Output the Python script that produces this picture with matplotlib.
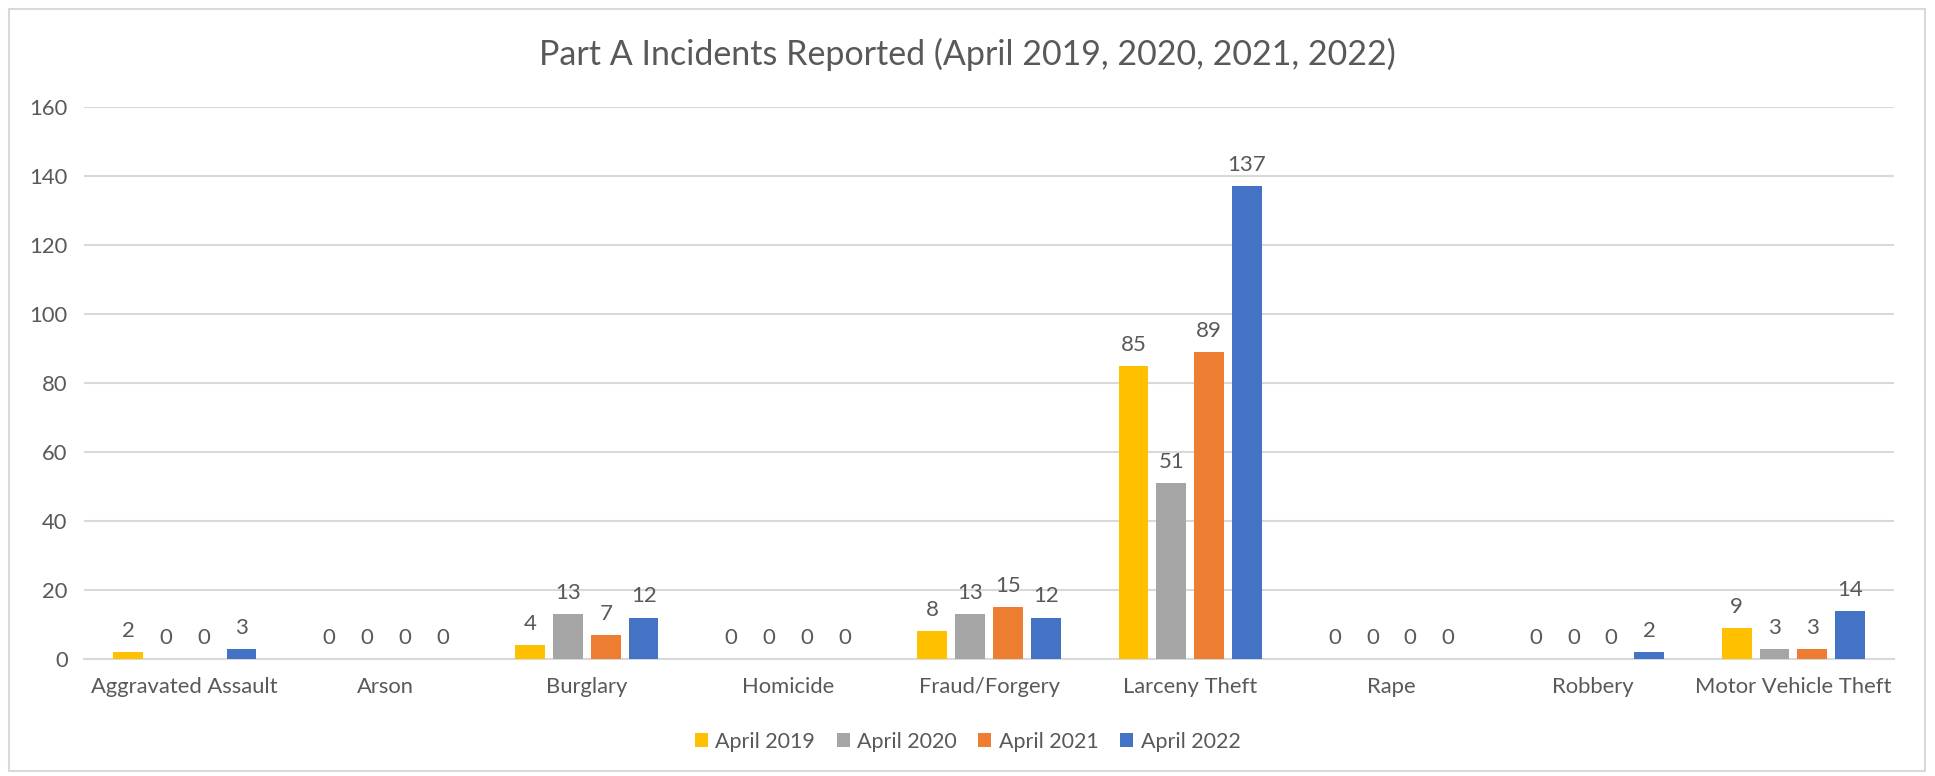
import matplotlib.pyplot as plt
import matplotlib.patches as mpatches
import numpy as np

plt.rcParams['font.family'] = ['Lato', 'DejaVu Sans']

# dados
categorias = ['Aggravated Assault', 'Arson', 'Burglary', 'Homicide', 'Fraud/Forgery',
              'Larceny Theft', 'Rape', 'Robbery', 'Motor Vehicle Theft']
series = ['April 2019', 'April 2020', 'April 2021', 'April 2022']
abr_2019 = [2, 0, 4, 0, 8, 85, 0, 0, 9]
abr_2020 = [0, 0, 13, 0, 13, 51, 0, 0, 3]
abr_2021 = [0, 0, 7, 0, 15, 89, 0, 0, 3]
abr_2022 = [3, 0, 12, 0, 12, 137, 0, 2, 14]
cores = ['#FFC000', '#A5A5A5', '#ED7D31', '#4472C4']

texto = '#595959'

fig = plt.figure(figsize=(19.35, 7.76), dpi=100)
ax = fig.add_axes([0.0435, 0.1508, 0.9353, 0.7113])

x = np.arange(len(categorias))
w = 0.148
passo = w * 1.27
valores = [abr_2019, abr_2020, abr_2021, abr_2022]
for i, (nome, vals, cor) in enumerate(zip(series, valores, cores)):
    pos = x + (i - 1.5) * passo
    barras = ax.bar(pos, vals, width=w, color=cor, label=nome, zorder=3)
    for b, v in zip(barras, vals):
        ax.annotate(str(v), (b.get_x() + b.get_width() / 2, v),
                    xytext=(0, 8), textcoords='offset points',
                    ha='center', va='bottom', fontsize=16, color=texto)

ax.set_xlim(-0.5, len(categorias) - 0.5)
ax.set_ylim(0, 160)
ax.set_yticks(range(0, 161, 20))
ax.set_xticks(x)
ax.set_xticklabels(categorias)
ax.tick_params(axis='both', length=0, labelsize=15.8, labelcolor=texto)
ax.tick_params(axis='y', pad=12)
ax.tick_params(axis='x', pad=13)
ax.grid(True, axis='y', color='#D9D9D9', linewidth=1.5, zorder=0)
for lado in ['top', 'right', 'left']:
    ax.spines[lado].set_visible(False)
ax.spines['bottom'].set_color('#D9D9D9')
ax.spines['bottom'].set_linewidth(1.5)

fig.suptitle('Part A Incidents Reported (April 2019, 2020, 2021, 2022)',
             y=0.93, va='center', fontsize=24.5, color=texto)

fig.legend(loc='center', bbox_to_anchor=(0.5, 0.044), ncol=4, frameon=False,
           fontsize=15.5, labelcolor=texto, handlelength=0.6, handleheight=0.6,
           handletextpad=0.35, columnspacing=1.0)

# moldura do gráfico
fig.patches.append(mpatches.Rectangle((9 / 1935, 5 / 776), 1916 / 1935, 762 / 776,
                                      transform=fig.transFigure, fill=False,
                                      edgecolor='#D9D9D9', linewidth=1.5))

fig.savefig('out.png', dpi=100)
